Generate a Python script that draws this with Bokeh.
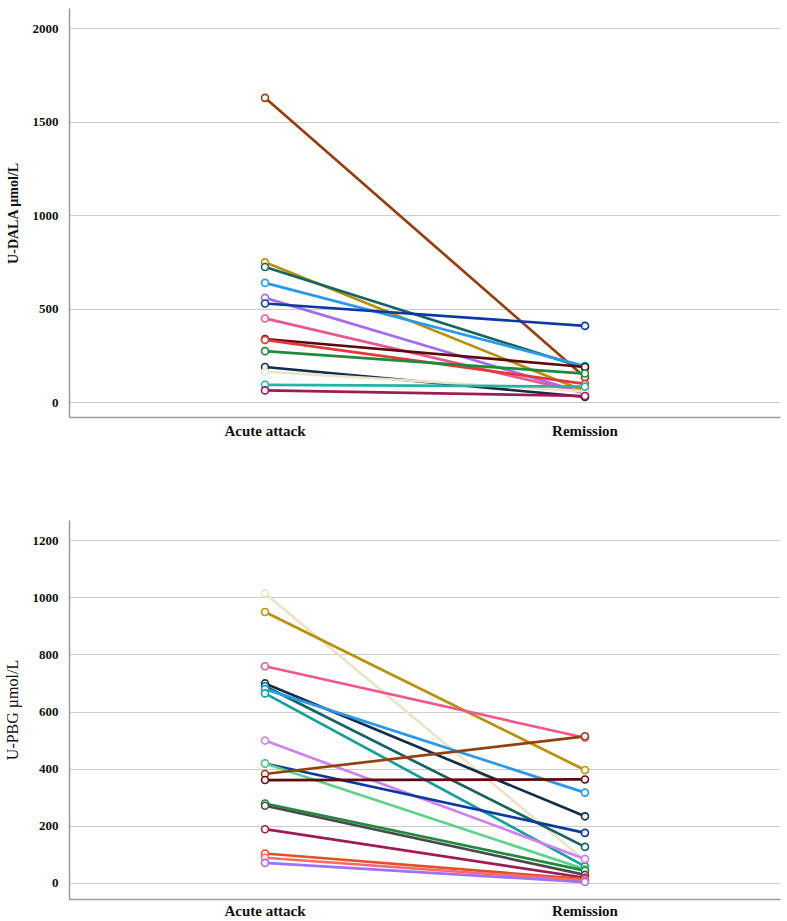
from bokeh.plotting import figure
from bokeh.models import FactorRange, Range1d, FixedTicker, ColumnDataSource
from bokeh.layouts import column
from bokeh.embed import file_html
from bokeh.resources import INLINE

# ---------------- data ----------------
phases = ["Acute attack", "Remission"]

dala_acute = [1630, 750, 725, 640, 560, 530, 450, 340, 335, 275, 190, 165, 95, 65]
dala_remission = [135, 60, 185, 195, 50, 410, 50, 190, 100, 155, 30, 60, 85, 35]
dala_colors = ["#93400f", "#b8900a", "#15645f", "#2a98ec", "#a56cf0", "#0c3a9c",
               "#e8578e", "#5c0a0c", "#e23a3a", "#1f8a3d", "#112e4c", "#ece4c8",
               "#27b2a6", "#9c1c55"]

pbg_acute = [1015, 950, 760, 700, 690, 680, 665, 500, 420, 420, 383, 362, 280, 272, 190, 105, 90, 72]
pbg_remission = [80, 397, 510, 235, 128, 318, 60, 86, 177, 50, 515, 364, 45, 30, 20, 15, 10, 5]
pbg_colors = ["#ece4c8", "#b8900a", "#f0588c", "#112e4c", "#15645f", "#2a98ec",
              "#14a098", "#cf82ee", "#0c3a9c", "#5fd18a", "#93400f", "#5c0a0c",
              "#1f8a3d", "#4a4a4a", "#9c1c55", "#e0502a", "#ff6b6b", "#a070ff"]

dala_ticks = [0, 500, 1000, 1500, 2000]
pbg_ticks = [0, 200, 400, 600, 800, 1000, 1200]

FONT = "Liberation Serif"


def make_panel(acute, remission, colors, ticks, ylabel, yr, height,
               border_top, border_bottom, label_bold, label_size, xstandoff):
    p = figure(x_range=FactorRange(*phases, range_padding=0.111, range_padding_units="percent"),
               y_range=Range1d(*yr), width=784, height=height,
               output_backend="svg", toolbar_location=None,
               min_border_left=60, min_border_right=4,
               min_border_top=border_top, min_border_bottom=border_bottom)
    p.outline_line_color = None
    p.background_fill_color = "white"
    p.xgrid.grid_line_color = None
    p.ygrid.grid_line_color = "#cccccc"
    p.ygrid.grid_line_width = 1
    p.yaxis.ticker = FixedTicker(ticks=ticks)

    for ax in (p.xaxis, p.yaxis):
        ax.axis_line_color = "#9a9a9a"
        ax.axis_line_width = 1.5
        ax.major_tick_line_color = None
        ax.minor_tick_line_color = None
        ax.major_label_text_font = FONT
        ax.major_label_text_font_style = "bold"
        ax.major_label_text_color = "#111111"
    p.xaxis.major_tick_out = 0
    p.xaxis.major_tick_in = 0
    p.yaxis.major_label_text_font_size = "13px"
    p.xaxis.major_label_text_font_size = "15px"
    p.yaxis.major_label_standoff = 5
    p.xaxis.major_label_standoff = xstandoff
    p.yaxis.axis_label = ylabel
    p.yaxis.axis_label_text_font = FONT
    p.yaxis.axis_label_text_font_style = "bold" if label_bold else "normal"
    p.yaxis.axis_label_text_font_size = label_size
    p.yaxis.axis_label_text_color = "#111111"
    p.yaxis.axis_label_standoff = 9

    xs = [phases[:] for _ in acute]
    ys = [[a, r] for a, r in zip(acute, remission)]
    src = ColumnDataSource(dict(xs=xs, ys=ys, color=colors))
    p.multi_line(xs="xs", ys="ys", line_color="color", line_width=2.7, source=src)

    pts = ColumnDataSource(dict(
        x=[phases[0]] * len(acute) + [phases[1]] * len(remission),
        y=list(acute) + list(remission),
        color=list(colors) + list(colors)))
    p.scatter(x="x", y="y", source=pts, size=7, marker="circle",
              fill_color="white", fill_alpha=0.9, line_color="color", line_width=1.6)
    return p


p1 = make_panel(dala_acute, dala_remission, dala_colors, dala_ticks,
                "U-DALA \u00b5mol/L", (-80, 2108), 450, 8, 33, True, "14px", 5)
p2 = make_panel(pbg_acute, pbg_remission, pbg_colors, pbg_ticks,
                "U-PBG \u00b5mol/L", (-56, 1270), 471, 70, 21, False, "16px", 3)

layout = column(p1, p2, spacing=0)
open("out.html", "w").write(file_html(layout, INLINE))
